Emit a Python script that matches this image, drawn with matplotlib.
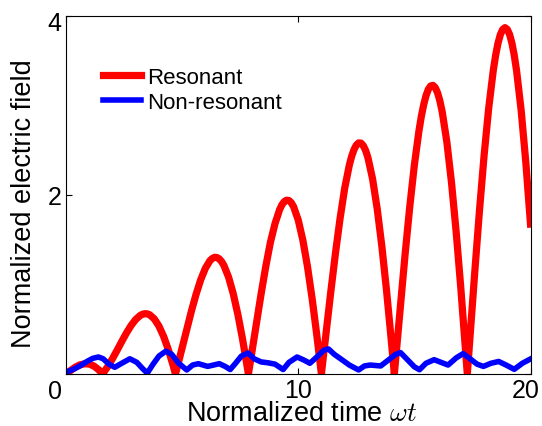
import matplotlib
matplotlib.use("Agg")
import matplotlib.pyplot as plt
from matplotlib.transforms import ScaledTranslation

plt.rcParams['font.family'] = ['Liberation Sans', 'DejaVu Sans']
plt.rcParams['mathtext.fontset'] = 'cm'

# Resonant response: sampled times and field magnitudes
t_res = [0.0, 0.2, 0.4, 0.6, 0.8, 1.0, 1.2, 1.4, 1.571, 1.6, 1.8, 2.0, 2.2, 2.4,
         2.6, 2.8, 3.0, 3.2, 3.3, 3.4, 3.5, 3.6, 3.8, 4.0, 4.2, 4.4, 4.6, 4.712,
         4.8, 5.0, 5.2, 5.4, 5.6, 5.8, 6.0, 6.2, 6.3, 6.4, 6.5, 6.6, 6.7, 6.8,
         7.0, 7.2, 7.4, 7.6, 7.8, 7.854, 8.0, 8.2, 8.4, 8.6, 8.8, 9.0, 9.2, 9.3,
         9.4, 9.5, 9.6, 9.7, 9.8, 10.0, 10.2, 10.4, 10.6, 10.8, 10.996, 11.2,
         11.4, 11.6, 11.8, 12.0, 12.2, 12.3, 12.4, 12.5, 12.6, 12.7, 12.8, 12.9,
         13.0, 13.2, 13.4, 13.6, 13.8, 14.0, 14.137, 14.2, 14.4, 14.6, 14.8,
         15.0, 15.2, 15.3, 15.4, 15.5, 15.6, 15.7, 15.8, 15.9, 16.0, 16.1, 16.2,
         16.4, 16.6, 16.8, 17.0, 17.2, 17.279, 17.4, 17.6, 17.8, 18.0, 18.2,
         18.4, 18.5, 18.6, 18.7, 18.8, 18.9, 19.0, 19.1, 19.2, 19.3, 19.4, 19.6,
         19.8, 20.0]
e_res = [0.0, 0.040, 0.076, 0.102, 0.114, 0.111, 0.089, 0.049, 0.0, 0.010,
         0.084, 0.171, 0.265, 0.363, 0.457, 0.541, 0.609, 0.655, 0.668, 0.674,
         0.672, 0.662, 0.616, 0.536, 0.422, 0.277, 0.106, 0.0, 0.086, 0.291,
         0.499, 0.703, 0.890, 1.053, 1.181, 1.267, 1.291, 1.304, 1.301, 1.286,
         1.256, 1.212, 1.082, 0.898, 0.665, 0.392, 0.086, 0.0, 0.239, 0.570,
         0.894, 1.199, 1.470, 1.681, 1.838, 1.892, 1.927, 1.942, 1.938, 1.914,
         1.869, 1.720, 1.493, 1.196, 0.838, 0.432, 0.0, 0.466, 0.916, 1.345,
         1.737, 2.076, 2.335, 2.433, 2.507, 2.557, 2.582, 2.580, 2.552, 2.498,
         2.418, 2.180, 1.845, 1.426, 0.936, 0.391, 0.0, 0.183, 0.766, 1.335,
         1.866, 2.336, 2.722, 2.879, 3.008, 3.109, 3.180, 3.218, 3.225, 3.200,
         3.141, 3.050, 2.927, 2.589, 2.136, 1.586, 0.959, 0.278, 0.0, 0.431,
         1.138, 1.816, 2.436, 2.971, 3.397, 3.563, 3.695, 3.791, 3.849, 3.870,
         3.851, 3.793, 3.697, 3.562, 3.390, 2.940, 2.361, 1.675]

# Non-resonant response
t_non = [0.0, 0.3, 0.6, 0.9, 1.15, 1.4, 1.6, 1.85, 2.1, 2.4, 2.75, 3.05, 3.3,
         3.5, 3.75, 4.0, 4.3, 4.55, 4.85, 5.2, 5.45, 5.7, 6.1, 6.6, 6.85, 7.07,
         7.3, 7.55, 7.84, 8.1, 8.4, 8.7, 9.0, 9.35, 9.6, 9.95, 10.25, 10.5,
         10.8, 11.1, 11.3, 11.55, 11.85, 12.2, 12.6, 12.85, 13.1, 13.55, 13.9,
         14.2, 14.4, 14.7, 15.0, 15.22, 15.5, 15.85, 16.15, 16.45, 16.8, 17.1,
         17.4, 17.7, 17.97, 18.3, 18.63, 18.95, 19.3, 19.65, 20.0]
e_non = [0.02, 0.05, 0.09, 0.14, 0.175, 0.19, 0.17, 0.11, 0.075, 0.12, 0.17,
         0.13, 0.06, 0.01, 0.11, 0.20, 0.255, 0.22, 0.12, 0.045, 0.10, 0.115,
         0.085, 0.115, 0.085, 0.05, 0.12, 0.20, 0.235, 0.17, 0.135, 0.125, 0.11,
         0.05, 0.13, 0.19, 0.155, 0.12, 0.19, 0.265, 0.28, 0.22, 0.165, 0.10,
         0.045, 0.09, 0.10, 0.09, 0.16, 0.22, 0.24, 0.16, 0.08, 0.048, 0.12,
         0.16, 0.13, 0.10, 0.18, 0.228, 0.17, 0.11, 0.085, 0.12, 0.14, 0.10,
         0.052, 0.12, 0.168]

series_names = ["Resonant", "Non-resonant"]
x_ticks = [0, 10, 20]
y_ticks = [0, 2, 4]
x_tick_labels = ["", "10", "20"]
y_tick_labels = ["0", "2", "4"]

W, H = 542, 427
fig = plt.figure(figsize=(W / 100, H / 100), dpi=100)
ax = fig.add_axes([66 / W, 52 / H, 464.5 / W, 358 / H])

ax.plot(t_res, e_res, color="#ff0000", lw=5.2, solid_joinstyle="round",
        label=series_names[0])
ax.plot(t_non, e_non, color="#0000ff", lw=4.0, solid_joinstyle="round",
        label=series_names[1])

ax.set_xlim(0, 20)
ax.set_ylim(0, 4)
ax.set_xticks(x_ticks)
ax.set_xticklabels(x_tick_labels)
ax.set_yticks(y_ticks)
ax.set_yticklabels(y_tick_labels)
ax.tick_params(direction="in", length=4.5, width=0.8, labelsize=18,
               top=True, right=True, pad=3)
for s in ax.spines.values():
    s.set_linewidth(0.8)

# nudge a few tick labels
def shift(label, dx, dy):
    label.set_transform(label.get_transform() +
                        ScaledTranslation(dx / 100, dy / 100, fig.dpi_scale_trans))

ylabels = ax.get_yticklabels()
shift(ylabels[0], 0, -15)
shift(ylabels[2], 0, -5)
xlabels = ax.get_xticklabels()
shift(xlabels[2], -5, 0)

ax.set_xlabel(r"Normalized time $\omega t$", fontsize=19.5)
ax.set_ylabel("Normalized electric field", fontsize=19.5)
ax.xaxis.set_label_coords(0.507, -0.072)
ax.yaxis.set_label_coords(-0.0625, 0.478)

ax.legend(loc="upper left", bbox_to_anchor=(0.08, 0.857), frameon=False,
          fontsize=16, handlelength=1.7, handletextpad=0.3, labelspacing=0.15,
          borderpad=0, borderaxespad=0)

fig.savefig("out.png", dpi=100)
